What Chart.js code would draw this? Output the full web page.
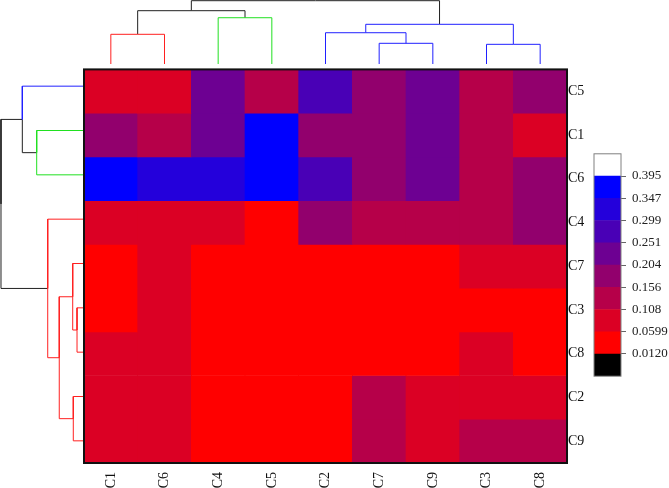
<!DOCTYPE html>
<html>
<head>
<meta charset="utf-8">
<script src="https://cdn.jsdelivr.net/npm/chart.js@4.4.0/dist/chart.umd.min.js"></script>
<style>
    body { margin: 0; background: #fff; }
    #wrap { position: relative; width: 669px; height: 488px; overflow: hidden; }
    #wrap canvas { position: absolute; }
</style>
</head>
<body>
<div id="wrap">
    <canvas id="topTree" width="483" height="64" style="left:84px;top:0px"></canvas>
    <canvas id="leftTree" width="84" height="399" style="left:0px;top:64px"></canvas>
    <canvas id="heat" width="514" height="428" style="left:80px;top:60px"></canvas>
    <canvas id="bar" width="79" height="250" style="left:590px;top:140px"></canvas>
</div>
<script>
// heatmap order (columns left->right, rows top->bottom)
const colLabels = ["C1", "C6", "C4", "C5", "C2", "C7", "C9", "C3", "C8"];
const rowLabels = ["C5", "C1", "C6", "C4", "C7", "C3", "C8", "C2", "C9"];

const rowC5 = [0.085, 0.082, 0.228, 0.131, 0.276, 0.179, 0.236, 0.127, 0.184];
const rowC1 = [0.171, 0.142, 0.232, 0.372, 0.168, 0.175, 0.229, 0.121, 0.094];
const rowC6 = [0.366, 0.318, 0.322, 0.381, 0.265, 0.183, 0.241, 0.134, 0.177];
const rowC4 = [0.091, 0.088, 0.079, 0.041, 0.162, 0.138, 0.129, 0.118, 0.189];
const rowC7 = [0.052, 0.076, 0.034, 0.028, 0.039, 0.045, 0.048, 0.071, 0.083];
const rowC3 = [0.055, 0.064, 0.021, 0.018, 0.033, 0.041, 0.037, 0.049, 0.044];
const rowC8 = [0.068, 0.073, 0.025, 0.031, 0.036, 0.052, 0.057, 0.066, 0.046];
const rowC2 = [0.084, 0.081, 0.029, 0.035, 0.042, 0.112, 0.094, 0.087, 0.078];
const rowC9 = [0.079, 0.086, 0.027, 0.022, 0.047, 0.125, 0.098, 0.115, 0.111];
const values = [rowC5, rowC1, rowC6, rowC4, rowC7, rowC3, rowC8, rowC2, rowC9];

// color scale
const levelBounds = [0.0120, 0.0599, 0.108, 0.156, 0.204, 0.251, 0.299, 0.347, 0.395];
const levelLabels = ["0.0120", "0.0599", "0.108", "0.156", "0.204", "0.251", "0.299", "0.347", "0.395"];
const levelColors = ["#000000", "#ff0000", "#db0024", "#b60049", "#92006d",
                     "#6d0092", "#4900b6", "#2400db", "#0000ff", "#ffffff"];

// dendrograms: [childA, childB, height], leaves 0..8 in display order, new nodes from 9
const colMerges = [[0, 1, 0.469], [2, 3, 0.731], [5, 6, 0.327], [4, 11, 0.494],
                   [7, 8, 0.311], [12, 13, 0.627], [9, 10, 0.842], [15, 14, 1.0]];
const colBranchColors = ["red", "red", "green", "green", "blue", "blue", "blue", "blue", "blue",
                         "black", "black", "blue", "blue", "blue", "black", "black"];
const rowMerges = [[1, 2, 0.570], [0, 9, 0.743], [5, 6, 0.084], [4, 11, 0.136],
                   [7, 8, 0.129], [12, 13, 0.298], [3, 14, 0.437], [10, 15, 1.0]];
const rowBranchColors = ["blue", "green", "green", "red", "red", "red", "red", "red", "red",
                         "black", "black", "red", "red", "red", "red", "black"];

const LINE = { red: "#ff2020", green: "#20e020", blue: "#2020ff", black: "#202020" };
const SERIF = "'Liberation Serif', 'Times New Roman', serif";

function colorFor(v) {
    let k = 0;
    while (k < levelBounds.length && v >= levelBounds[k]) k++;
    return levelColors[k];
}

// one polyline per branch: child -> up to parent height -> across to parent centre
function treeBranches(merges, nLeaves, colors, horizontal) {
    const pos = [], h = [], parent = [];
    for (let i = 0; i < nLeaves; i++) { pos.push(i + 0.5); h.push(0); }
    merges.forEach((m, k) => {
        const id = nLeaves + k;
        pos.push((pos[m[0]] + pos[m[1]]) / 2);
        h.push(m[2]);
        parent[m[0]] = id;
        parent[m[1]] = id;
    });
    const sets = [];
    for (let c = 0; c < pos.length; c++) {
        const p = parent[c];
        if (p === undefined) continue;
        const pts = [[pos[c], h[c]], [pos[c], h[p]], [pos[p], h[p]]];
        sets.push({
            data: pts.map(q => horizontal ? { x: q[1], y: q[0] } : { x: q[0], y: q[1] }),
            showLine: true,
            borderColor: LINE[colors[c]],
            borderWidth: 1,
            pointRadius: 0,
            clip: false
        });
    }
    return sets;
}

function framePlugin(color, width) {
    return {
        id: "frame",
        afterDatasetsDraw(chart) {
            const a = chart.chartArea, ctx = chart.ctx;
            ctx.save();
            ctx.strokeStyle = color;
            ctx.lineWidth = width;
            ctx.strokeRect(a.left, a.top, a.right - a.left, a.bottom - a.top);
            ctx.restore();
        }
    };
}

const base = {
    responsive: false,
    animation: false,
    devicePixelRatio: 1,
    plugins: { legend: { display: false }, tooltip: { enabled: false } }
};

// top dendrogram
new Chart(document.getElementById("topTree"), {
    type: "scatter",
    data: { datasets: treeBranches(colMerges, colLabels.length, colBranchColors, false) },
    options: {
        ...base,
        layout: { padding: 0 },
        scales: {
            x: { display: false, min: 0, max: colLabels.length },
            y: { display: false, min: 0, max: 1.011 }
        }
    }
});

// left dendrogram
new Chart(document.getElementById("leftTree"), {
    type: "scatter",
    data: { datasets: treeBranches(rowMerges, rowLabels.length, rowBranchColors, true) },
    options: {
        ...base,
        layout: { padding: 0 },
        scales: {
            x: { display: false, min: 0, max: 1.012, reverse: true },
            y: { display: false, min: 0, max: rowLabels.length, reverse: true }
        }
    }
});

// heatmap: one stacked bar per cell, coloured by value
new Chart(document.getElementById("heat"), {
    type: "bar",
    data: {
        labels: colLabels,
        datasets: values.map(row => ({
            data: row.map(() => 1),
            backgroundColor: row.map(colorFor),
            borderWidth: 0,
            barPercentage: 1,
            categoryPercentage: 1
        }))
    },
    options: {
        ...base,
        layout: { padding: { left: 4, top: 4, right: 0, bottom: 0 } },
        scales: {
            x: {
                stacked: true,
                grid: { display: false, drawTicks: false },
                border: { display: false },
                ticks: {
                    autoSkip: false, minRotation: 90, maxRotation: 90, padding: 9,
                    color: "#111", font: { family: SERIF, size: 14 }
                },
                afterFit: s => { s.height = 25; }
            },
            y: {
                stacked: true,
                position: "right",
                min: 0,
                max: rowLabels.length,
                reverse: true,
                grid: { display: false, drawTicks: false },
                border: { display: false },
                afterBuildTicks: s => { s.ticks = rowLabels.map((_, i) => ({ value: i + 0.5 })); },
                ticks: {
                    padding: 1, color: "#111", font: { family: SERIF, size: 14 },
                    callback: (v, i) => rowLabels[i]
                },
                afterFit: s => { s.width = 27; }
            }
        }
    },
    plugins: [framePlugin("#111", 2)]
});

// colour bar
new Chart(document.getElementById("bar"), {
    type: "bar",
    data: {
        labels: ["scale"],
        datasets: levelColors.map(c => ({
            data: [1],
            backgroundColor: c,
            borderWidth: 0,
            barPercentage: 1,
            categoryPercentage: 1
        }))
    },
    options: {
        ...base,
        layout: { padding: { left: 4, top: 9, right: 0, bottom: 9 } },
        scales: {
            x: { display: false, stacked: true },
            y: {
                stacked: true,
                position: "right",
                min: 0,
                max: levelColors.length,
                grid: { drawOnChartArea: false, drawTicks: true, tickLength: 5, color: "#666" },
                border: { display: false },
                afterBuildTicks: s => { s.ticks = levelLabels.map((_, i) => ({ value: i + 1 })); },
                ticks: {
                    padding: 6, color: "#222", font: { family: SERIF, size: 13 },
                    callback: (v, i) => levelLabels[i]
                },
                afterFit: s => { s.width = 48; }
            }
        }
    },
    plugins: [framePlugin("#808080", 1)]
});
</script>
</body>
</html>
